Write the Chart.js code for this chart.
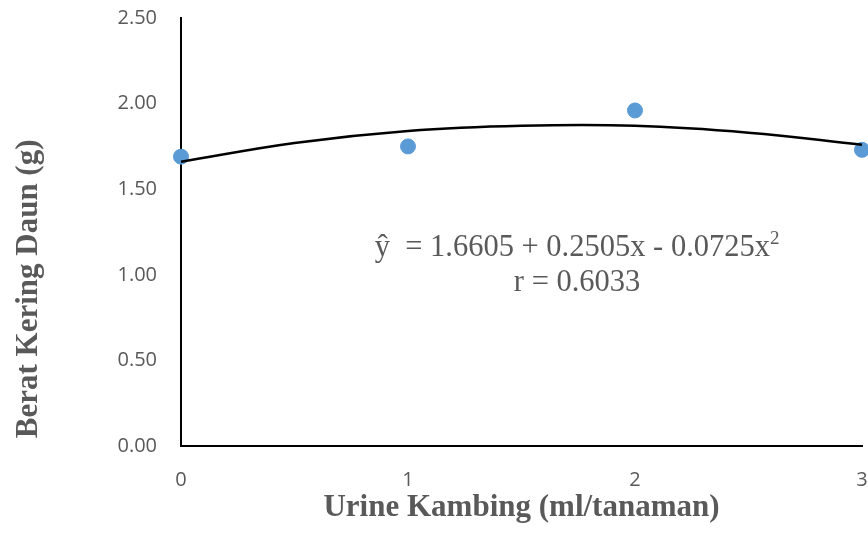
<!DOCTYPE html>
<html>
<head>
<meta charset="utf-8">
<script src="https://cdn.jsdelivr.net/npm/chart.js@4"></script>
<style>
  html, body { margin: 0; padding: 0; background: #fff; }
  #wrap { width: 868px; height: 538px; }
</style>
</head>
<body>
<div id="wrap"><canvas id="myChart"></canvas></div>
<script>
let ctx = document.getElementById('myChart').getContext('2d');

// observed points
let doses = [0, 1, 2, 3];
let leafWeight = [1.69, 1.75, 1.96, 1.73];

// trend curve
let trendX = [0, 0.5, 1, 1.5, 2, 2.5, 3];
let trendY = [1.66, 1.77, 1.84, 1.87, 1.87, 1.83, 1.76];

let yTicks = [0, 0.5, 1, 1.5, 2, 2.5];

let eqLine1 = 'ŷ  = 1.6605 + 0.2505x - 0.0725x';
let eqSup = '2';
let eqLine2 = 'r = 0.6033';

let grey = '#595959';

// equation text, anchored in data units
let equationLabel = {
    id: 'equationLabel',
    afterDatasetsDraw(chart) {
        let c = chart.ctx;
        let xs = chart.scales.x, ys = chart.scales.y;
        let cx = xs.getPixelForValue(1.745);
        c.save();
        c.fillStyle = grey;
        c.textBaseline = 'middle';
        c.font = '30.5px "Liberation Serif"';
        let w1 = c.measureText(eqLine1).width;
        c.font = '19px "Liberation Serif"';
        let w2 = c.measureText(eqSup).width;
        let left = cx - (w1 + w2) / 2;
        let y1 = ys.getPixelForValue(1.157);
        c.font = '30.5px "Liberation Serif"';
        c.textAlign = 'left';
        c.fillText(eqLine1, left, y1);
        c.font = '19px "Liberation Serif"';
        c.fillText(eqSup, left + w1, y1 - 9);
        c.font = '30.5px "Liberation Serif"';
        c.textAlign = 'center';
        c.fillText(eqLine2, cx, ys.getPixelForValue(0.952));
        c.restore();
    }
};

let myChart = new Chart(ctx, {
    type: 'scatter',
    data: {
        datasets: [{
                label: 'Trend',
                type: 'line',
                data: trendX.map((x, i) => ({x: x, y: trendY[i]})),
                borderColor: '#000000',
                borderWidth: 2.5,
                pointRadius: 0,
                fill: false,
                tension: 0.4,
                clip: false,
                order: 0
            },
            {
                label: 'Berat kering daun',
                data: doses.map((x, i) => ({x: x, y: leafWeight[i]})),
                backgroundColor: '#5B9BD5',
                borderColor: '#5B9BD5',
                pointRadius: 7.5,
                pointHoverRadius: 7.5,
                clip: false,
                order: 1
            }
        ]
    },
    options: {
        responsive: true,
        maintainAspectRatio: false,
        animation: false,
        layout: { padding: { top: 18, right: 6, left: 0, bottom: 0 }, autoPadding: false },
        plugins: {
            legend: { display: false },
            tooltip: { enabled: false }
        },
        scales: {
            x: {
                type: 'linear',
                min: 0,
                max: 3,
                grid: { display: false, drawTicks: false },
                border: { display: true, color: '#000000', width: 2 },
                ticks: {
                    stepSize: 1,
                    padding: 22,
                    color: grey,
                    font: { family: '"Open Sans"', size: 20 }
                },
                title: {
                    display: true,
                    text: 'Urine Kambing (ml/tanaman)',
                    color: grey,
                    padding: { top: 0, bottom: 11 },
                    font: { family: '"Liberation Serif"', size: 31, weight: 'bold' }
                },
                afterFit(scale) {
                    scale.height = 92;
                    scale.paddingLeft = 0;
                    scale.paddingRight = 0;
                }
            },
            y: {
                min: 0,
                max: 2.5,
                grid: { display: false, drawTicks: false },
                border: { display: true, color: '#000000', width: 2 },
                afterBuildTicks(scale) { scale.ticks = yTicks.map(v => ({value: v})); },
                ticks: {
                    padding: 24,
                    color: grey,
                    font: { family: '"Open Sans"', size: 20 },
                    callback: v => v.toFixed(2)
                },
                title: {
                    display: true,
                    text: ' Berat Kering Daun (g)',
                    align: 'start',
                    color: grey,
                    padding: { top: 10, bottom: 0 },
                    font: { family: '"Liberation Serif"', size: 31, weight: 'bold' }
                },
                afterFit(scale) {
                    scale.width = 181;
                    scale.paddingTop = 0;
                    scale.paddingBottom = 0;
                }
            }
        }
    },
    plugins: [equationLabel]
});
</script>
</body>
</html>
